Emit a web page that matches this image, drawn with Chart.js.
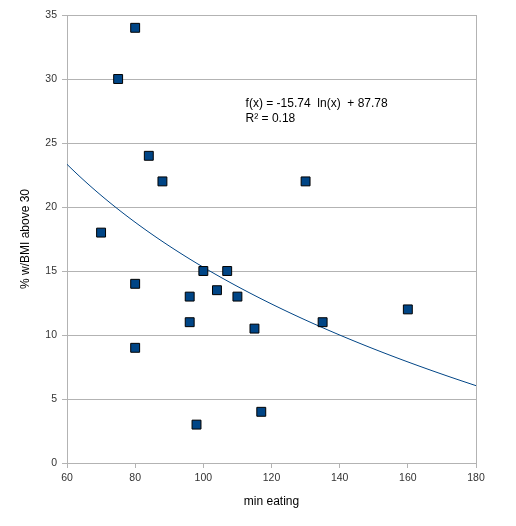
<!DOCTYPE html>
<html>
<head>
<meta charset="utf-8">
<script src="https://cdn.jsdelivr.net/npm/chart.js@4"></script>
<style>
  html, body { margin: 0; padding: 0; background: #fff; }
  #chart { display: block; }
</style>
</head>
<body>
<canvas id="chart" width="516" height="526"></canvas>
<script>
// minutes spent eating vs % with BMI above 30
const minEating = [80, 75, 84, 88, 70, 130, 80, 96, 96, 80, 100, 107, 104, 110, 115, 135, 160, 98, 117];
const pctBmi30 = [34, 30, 24, 22, 18, 22, 14, 13, 11, 9, 15, 15, 13.5, 13, 10.5, 11, 12, 3, 4];

const xTicks = [60, 80, 100, 120, 140, 160, 180];
const yTicks = [0, 5, 10, 15, 20, 25, 30, 35];

// logarithmic trendline as reported in the chart
const trendSlope = -15.74;
const trendIntercept = 87.78;
const trendLabel = ['f(x) = -15.74  ln(x)  + 87.78', 'R\u00B2 = 0.18'];

const BLUE = '#004586';
const GRID = '#b3b3b3';
const FONT = '"Liberation Sans", Arial, sans-serif';

const points = minEating.map((x, i) => ({ x: x, y: pctBmi30[i] }));

const trendPlugin = {
    id: 'trend',
    beforeDatasetsDraw(chart) {
        const ctx = chart.ctx;
        const xs = chart.scales.x;
        const ys = chart.scales.y;
        const area = chart.chartArea;

        // right frame line
        ctx.save();
        ctx.strokeStyle = GRID;
        ctx.lineWidth = 1;
        ctx.beginPath();
        ctx.moveTo(Math.round(area.right) + 0.5, area.top);
        ctx.lineTo(Math.round(area.right) + 0.5, area.bottom);
        ctx.stroke();

        // trend curve, sampled along the x scale
        ctx.strokeStyle = BLUE;
        ctx.lineWidth = 1;
        ctx.beginPath();
        for (let px = area.left; px <= area.right; px++) {
            const xv = xs.getValueForPixel(px);
            const yv = trendSlope * Math.log(xv) + trendIntercept;
            const py = ys.getPixelForValue(yv);
            if (px === area.left) ctx.moveTo(px, py); else ctx.lineTo(px, py);
        }
        ctx.stroke();

        // equation text
        ctx.fillStyle = '#000';
        ctx.font = '12px ' + FONT;
        ctx.textBaseline = 'middle';
        ctx.textAlign = 'left';
        const tx = xs.getPixelForValue(112.4);
        const ty = ys.getPixelForValue(28.1);
        ctx.fillText(trendLabel[0], tx, ty);
        ctx.fillText(trendLabel[1], tx, ty + 15);
        ctx.restore();
    }
};

new Chart(document.getElementById('chart'), {
    type: 'scatter',
    data: {
        datasets: [{
            label: '% w/BMI above 30',
            data: points,
            pointStyle: 'rect',
            pointRadius: 6.3,
            pointHoverRadius: 6.3,
            backgroundColor: BLUE,
            borderColor: '#000',
            borderWidth: 1
        }]
    },
    options: {
        responsive: false,
        devicePixelRatio: 1,
        animation: false,
        layout: { padding: { top: 15, right: 40, left: 0, bottom: 0 } },
        plugins: {
            legend: { display: false },
            tooltip: { enabled: false }
        },
        scales: {
            x: {
                type: 'linear',
                min: 60,
                max: 180,
                afterBuildTicks: (scale) => { scale.ticks = xTicks.map(v => ({ value: v })); },
                afterFit: (scale) => { scale.height = 63; },
                grid: { drawOnChartArea: false, drawTicks: true, tickLength: 5, color: GRID },
                border: { color: GRID },
                ticks: { color: '#333', font: { family: FONT, size: 10.5 }, padding: 4, maxRotation: 0 },
                title: { display: true, text: 'min eating', color: '#000', font: { family: FONT, size: 12 }, padding: { top: 0, bottom: 17 } }
            },
            y: {
                type: 'linear',
                min: 0,
                max: 35,
                afterBuildTicks: (scale) => { scale.ticks = yTicks.map(v => ({ value: v })); },
                afterFit: (scale) => { scale.width = 67; },
                grid: { drawTicks: true, tickLength: 5, color: GRID },
                border: { color: GRID },
                ticks: { color: '#333', font: { family: FONT, size: 10.5 }, padding: 5 },
                title: { display: true, text: '% w/BMI above 30', color: '#000', font: { family: FONT, size: 12 }, padding: { top: 18, bottom: 0 } }
            }
        }
    },
    plugins: [trendPlugin]
});
</script>
</body>
</html>
